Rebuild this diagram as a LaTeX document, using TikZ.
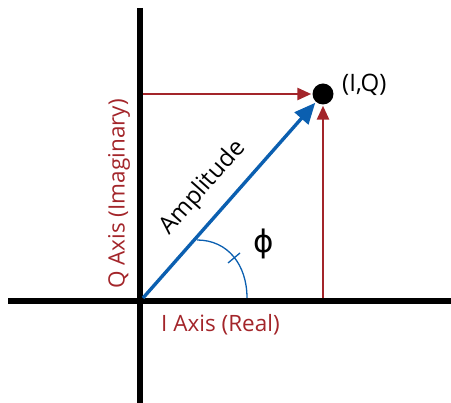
\documentclass[tikz,border=0pt]{standalone}
\usepackage{fontspec}
\setmainfont{Open Sans}
\newfontfamily\greekfont{DejaVu Sans}
\usetikzlibrary{arrows.meta}
\definecolor{axred}{HTML}{A3252A}
\definecolor{ampblue}{HTML}{0B5FB0}
\begin{document}
\begin{tikzpicture}[x=1pt,y=-1pt,
  axisline/.style={line width=6pt,black},
  redarrow/.style={axred,line width=2.6pt,-{Triangle[length=14pt,width=12pt]},shorten >=1pt},
  bluearrow/.style={ampblue,line width=3.4pt,-{Triangle[length=21pt,width=18pt]},shorten >=1pt},
  dotnode/.style={circle,fill=black,minimum size=21pt,inner sep=0pt},
  redlabel/.style={text=axred,font=\fontsize{22.5}{22.5}\selectfont,inner sep=0pt}]
\useasboundingbox (0,0) rectangle (451,403);
\coordinate (hl) at (8,301);
\coordinate (hr) at (451,301);
\coordinate (vt) at (140,8);
\coordinate (vb) at (140,403);
\coordinate (O) at (143,298);
\coordinate (qfoot) at (143,94);
\coordinate (ifoot) at (323,298);
\coordinate (arcs) at (247,298);
\coordinate (arce) at (197,240);
\node[dotnode] (pt) at (323,94) {};
\draw[axisline] (hl) -- (hr);
\draw[axisline] (vt) -- (vb);
\draw[redarrow] (qfoot) -- (pt);
\draw[redarrow] (ifoot) -- (pt);
\draw[bluearrow] (O) -- (pt);
\draw[ampblue,line width=1.3pt] (arcs) .. controls (247,265) and (228,240) .. (arce);
\coordinate (tk1) at (228,263);
\coordinate (tk2) at (240,253);
\draw[ampblue,line width=1.3pt] (tk1) -- (tk2);
\node[font=\fontsize{24}{24}\selectfont,anchor=west,inner sep=0pt] (iq) at (342,85) {(I,Q)};
\node[font=\fontsize{24}{24}\selectfont,rotate=48.5,inner sep=0pt] (amp) at (203,188) {Amplitude};
\node[font=\greekfont\fontsize{31}{31}\selectfont,inner sep=0pt] (phi) at (264,244) {ϕ};
\node[redlabel,rotate=90] (qlab) at (119,194) {Q Axis (Imaginary)};
\node[redlabel,anchor=west] (ilab) at (161,325) {I Axis (Real)};
\end{tikzpicture}
\end{document}
